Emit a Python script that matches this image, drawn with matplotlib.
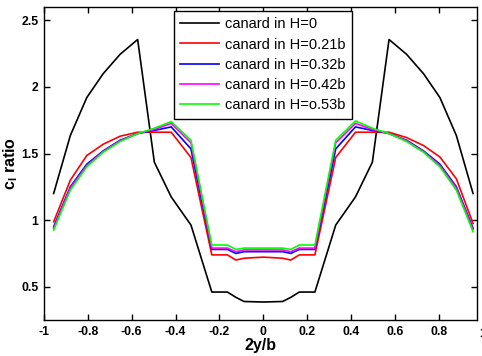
import numpy as np
import matplotlib.pyplot as plt

plt.rcParams['font.family'] = ['Liberation Sans', 'DejaVu Sans']

# spanwise stations 2y/b
x = [-0.956, -0.88, -0.805, -0.73, -0.653, -0.573, -0.497, -0.42, -0.33, -0.235, -0.164, -0.125, -0.088, 0.0,
     0.088, 0.125, 0.164, 0.235, 0.33, 0.42, 0.497, 0.573, 0.653, 0.73, 0.805, 0.88, 0.956]

# cl ratio for each canard height
cl_h0 = [1.20, 1.635, 1.92, 2.10, 2.245, 2.356, 1.435, 1.174, 0.963, 0.46, 0.46, 0.42, 0.389, 0.385,
         0.389, 0.42, 0.46, 0.46, 0.963, 1.174, 1.435, 2.356, 2.245, 2.10, 1.92, 1.635, 1.20]
cl_h021 = [0.987, 1.30, 1.485, 1.57, 1.63, 1.66, 1.66, 1.66, 1.47, 0.739, 0.739, 0.70, 0.714, 0.722,
           0.714, 0.70, 0.739, 0.739, 1.47, 1.66, 1.66, 1.66, 1.62, 1.56, 1.474, 1.31, 0.975]
cl_h032 = [0.95, 1.25, 1.42, 1.52, 1.60, 1.65, 1.673, 1.70, 1.535, 0.78, 0.78, 0.75, 0.763, 0.763,
           0.763, 0.75, 0.78, 0.78, 1.535, 1.70, 1.673, 1.65, 1.60, 1.52, 1.42, 1.25, 0.94]
cl_h042 = [0.94, 1.24, 1.41, 1.515, 1.595, 1.65, 1.68, 1.726, 1.58, 0.79, 0.79, 0.763, 0.776, 0.776,
           0.776, 0.763, 0.79, 0.79, 1.58, 1.726, 1.68, 1.65, 1.595, 1.515, 1.41, 1.24, 0.93]
cl_h053 = [0.925, 1.225, 1.40, 1.51, 1.59, 1.65, 1.69, 1.74, 1.60, 0.813, 0.813, 0.78, 0.79, 0.79,
           0.79, 0.78, 0.813, 0.813, 1.60, 1.745, 1.69, 1.65, 1.59, 1.51, 1.40, 1.225, 0.913]

labels = ['canard in H=0', 'canard in H=0.21b', 'canard in H=0.32b', 'canard in H=0.42b', 'canard in H=o.53b']
colors = ['black', '#ff0000', '#0000ff', '#ff00ff', '#00ff00']
series = [cl_h0, cl_h021, cl_h032, cl_h042, cl_h053]

fig = plt.figure(figsize=(4.82, 3.56), dpi=100)
ax = fig.add_axes([0.0913, 0.1011, 0.8983, 0.8792])

for s, c, lab in zip(series, colors, labels):
    ax.plot(x, s, color=c, lw=1.2, label=lab)

ax.set_xlim(-1, 0.974)
ax.set_ylim(0.25, 2.6)
ax.set_xticks(np.arange(-1, 0.99, 0.2))
ax.set_xticklabels(['-1', '-0.8', '-0.6', '-0.4', '-0.2', '0', '0.2', '0.4', '0.6', '0.8'])
ax.set_yticks([0.5, 1, 1.5, 2, 2.5])
ax.set_yticklabels(['0.5', '1', '1.5', '2', '2.5'])
ax.tick_params(direction='in', top=True, right=True, length=4, width=1, labelsize=8.8)
ax.tick_params(axis='x', pad=4.5)
ax.tick_params(axis='y', pad=4)
for lbl in ax.get_xticklabels() + ax.get_yticklabels():
    lbl.set_fontweight('bold')
for sp in ax.spines.values():
    sp.set_linewidth(1.0)

# the "1" tick label sits just past the right edge
ax.text(1.0, -0.025, '1', transform=ax.get_xaxis_transform(), ha='center', va='top',
        fontsize=8.8, fontweight='bold', clip_on=False)

ax.set_xlabel('2y/b', fontsize=11.5, fontweight='bold')
ax.xaxis.set_label_coords(0.5, -0.058)
ax.set_ylabel(r'c$_\mathregular{l}$ ratio', fontsize=11.5, fontweight='bold')
ax.yaxis.set_label_coords(-0.055, 0.5)

leg = ax.legend(loc='upper left', bbox_to_anchor=(0.30, 0.988), borderaxespad=0, fontsize=10.5,
                frameon=True, fancybox=False, framealpha=1, edgecolor='black',
                handlelength=2.67, handletextpad=0.35, labelspacing=0.43, borderpad=0.45)
leg.get_frame().set_linewidth(1.0)

plt.savefig('out.png', dpi=100)
